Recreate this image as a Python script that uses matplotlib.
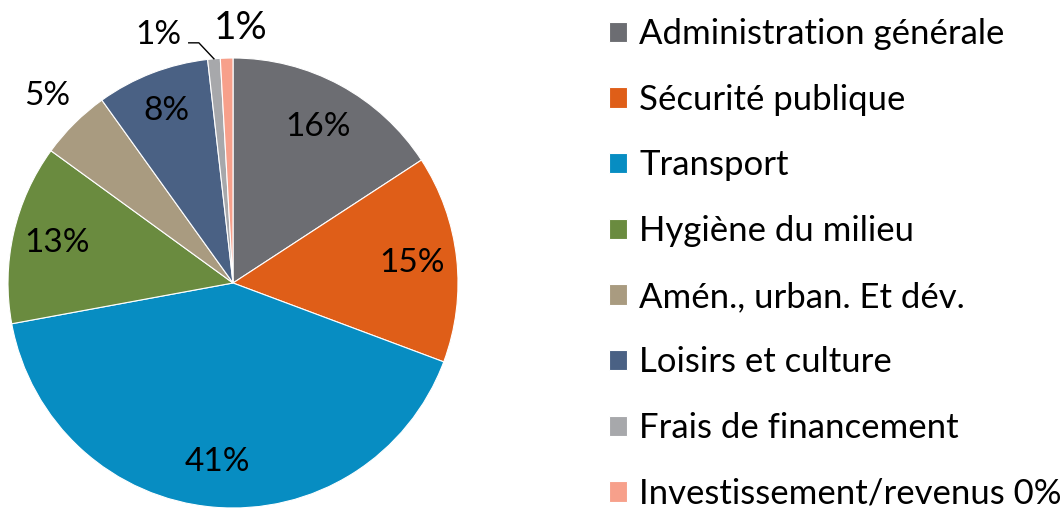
import numpy as np
import matplotlib.pyplot as plt

plt.rcParams['font.family'] = ['Lato', 'DejaVu Sans']

categories = ["Administration générale", "Sécurité publique", "Transport",
              "Hygiène du milieu", "Amén., urban. Et dév.", "Loisirs et culture",
              "Frais de financement", "Investissement/revenus 0%"]
shares = [15.8, 14.9, 41.4, 12.9, 5.1, 8.1, 0.9, 0.9]
colors = ["#6C6D72", "#DF5E18", "#078DC2", "#6A8B3F", "#A99B80",
          "#4A6184", "#A7A8AB", "#F7A08B"]

fig = plt.figure(figsize=(10.61, 5.08), dpi=100)
ax = fig.add_axes([8 / 1061, 0, 450 / 1061, 450 / 508])

wedges, _ = ax.pie(shares, colors=colors, startangle=90, counterclock=False,
                   radius=1.0, wedgeprops=dict(edgecolor="white", linewidth=0.8))
ax.set_xlim(-1, 1)
ax.set_ylim(-1, 1)
ax.set_aspect("equal")

fs = 24
label_r = [0.79, 0.80, 0.80, 0.80, 1.17, 0.82]
for w, share, r in zip(wedges[:6], shares[:6], label_r):
    ang = np.deg2rad((w.theta1 + w.theta2) / 2)
    ax.text(r * np.cos(ang), r * np.sin(ang), f"{share:.0f}%",
            ha="center", va="center", fontsize=fs)

# small slices at the top: leader line for the grey one
w = wedges[6]
ang = np.deg2rad((w.theta1 + w.theta2) / 2)
end = np.array([np.cos(ang), np.sin(ang)])
bend = end + np.array([-0.067, 0.071])
start = bend + np.array([-0.045, 0.0])
pts = np.array([start, bend, end])
ax.plot(pts[:, 0], pts[:, 1], color="black", lw=1, clip_on=False)
ax.text(-0.33, 1.10, f"{shares[6]:.0f}%", ha="center", va="center",
        fontsize=fs, clip_on=False)
ax.text(0.035, 1.135, f"{shares[7]:.0f}%", ha="center", va="center",
        fontsize=28, clip_on=False)

fig.legend(wedges, categories, loc="upper left", bbox_to_anchor=(578 / 1061, 1.026),
           frameon=False, fontsize=25, handlelength=0.52, handleheight=0.52,
           handletextpad=0.35, labelspacing=0.97)

fig.savefig("out.png", dpi=100)
